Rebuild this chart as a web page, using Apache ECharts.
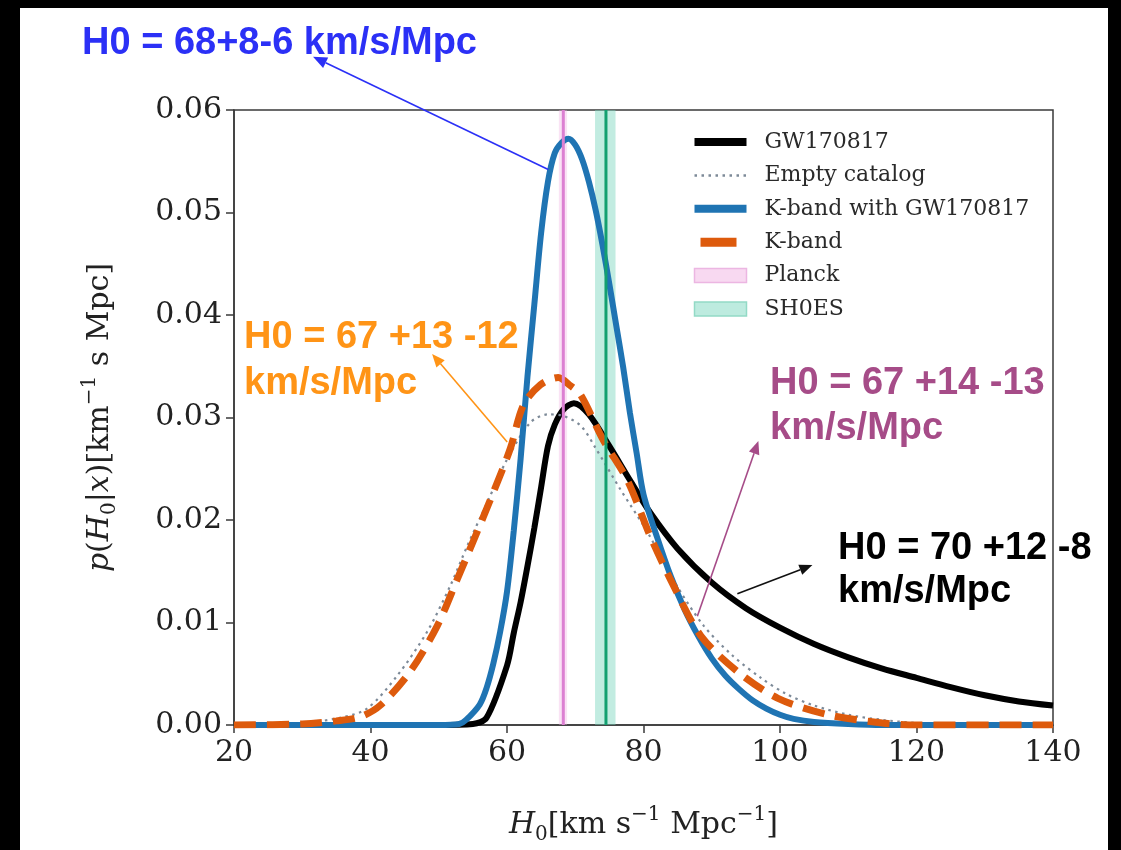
<!DOCTYPE html>
<html><head><meta charset="utf-8">
<script src="https://cdn.jsdelivr.net/npm/echarts@6/dist/echarts.min.js"></script>
<style>html,body{margin:0;padding:0;background:#000}#c{width:1121px;height:850px}</style>
</head><body><div id="c"></div>
<script>
// ---- data ----
const xTicks = [20, 40, 60, 80, 100, 120, 140];
const yTicks = [0.00, 0.01, 0.02, 0.03, 0.04, 0.05, 0.06];

const gwX = [20, 40, 50, 55, 57, 60, 61, 62, 63, 64, 65, 66, 67, 68.3, 69.8, 72, 75, 78, 81, 85, 90, 95, 100, 105, 110, 115, 120, 125, 130, 135, 140];
const gwY = [0, 0, 0, 0.0001, 0.0007, 0.0058, 0.009, 0.012, 0.0155, 0.0192, 0.0232, 0.0272, 0.0293, 0.0308, 0.0314, 0.0303, 0.0272, 0.0239, 0.0207, 0.0172, 0.0139, 0.0114, 0.0095, 0.0079, 0.0066, 0.0055, 0.0046, 0.0037, 0.0029, 0.0023, 0.0019];

const emptyX = [20, 30, 35.5, 39.5, 43.9, 48.3, 51.7, 54.2, 57.1, 60, 63.4, 66, 68, 70.8, 73, 76.6, 80.6, 84.5, 88.8, 93, 97.2, 101, 105, 110, 115, 120, 130, 140];
const emptyY = [0, 0.0002, 0.0007, 0.0016, 0.0048, 0.0091, 0.0136, 0.0175, 0.0217, 0.0259, 0.0295, 0.0303, 0.0302, 0.0292, 0.027, 0.023, 0.0188, 0.014, 0.0097, 0.0068, 0.0046, 0.003, 0.0019, 0.001, 0.0005, 0.0002, 0, 0];

const kgwX = [20, 50, 53, 54, 56, 57, 58, 59, 60, 61, 62, 63, 64, 65, 66, 67, 68, 69, 70, 71, 72, 73, 74, 75, 76, 77, 78, 79, 80, 82, 84, 86, 88, 90, 92, 94, 96, 98, 100, 102, 105, 110, 115, 140];
const kgwY = [0, 0, 0.0001, 0.0005, 0.002, 0.0036, 0.006, 0.0091, 0.013, 0.019, 0.026, 0.034, 0.041, 0.048, 0.053, 0.0558, 0.0568, 0.0572, 0.0566, 0.0552, 0.053, 0.0502, 0.0468, 0.043, 0.039, 0.035, 0.0305, 0.0265, 0.0225, 0.0183, 0.0145, 0.0113, 0.0087, 0.0065, 0.0048, 0.0035, 0.0024, 0.0016, 0.001, 0.0006, 0.0003, 0.0001, 0, 0];

const kX = [20, 30, 35, 38.5, 41.4, 45.8, 49.8, 52.7, 55.1, 58, 60.5, 62.4, 64.9, 67.5, 69.3, 70.8, 74.1, 77.7, 81, 84.4, 88.4, 93.8, 99.7, 107, 115, 120, 140];
const kY = [0, 0.0001, 0.0004, 0.0008, 0.0019, 0.0052, 0.0097, 0.0142, 0.018, 0.0227, 0.027, 0.0312, 0.0332, 0.0339, 0.0331, 0.0322, 0.0278, 0.0238, 0.0184, 0.0136, 0.0087, 0.0052, 0.0026, 0.001, 0.0002, 0, 0];

const planckLine = 68.25, planckBand = [67.6, 68.8];
const shoesLine = 74.5, shoesBand = [72.9, 75.9];

const legendNames = ['GW170817', 'Empty catalog', 'K-band with GW170817', 'K-band', 'Planck', 'SH0ES'];

// annotations: text and arrow (from point on curve -> to text), in data units
const annBlue = {text: 'H0 = 68+8-6 km/s/Mpc', from: [66.04, 0.0542], to: [31.58, 0.0652]};
const annOrange = {text: 'H0 = 67 +13 -12\nkm/s/Mpc', from: [60.03, 0.0276], to: [49.03, 0.0362]};
const annPurple = {text: 'H0 = 67 +14 -13\nkm/s/Mpc', from: [87.89, 0.0106], to: [96.83, 0.0277]};
const annBlack = {text: 'H0 = 70 +12 -8\nkm/s/Mpc', from: [93.75, 0.0128], to: [104.75, 0.0156]};

const zip = (xs, ys) => xs.map((x, i) => [x, ys[i]]);
const serif = 'DejaVu Serif';
const axisC = '#3a3a3a', txtC = '#222';
const cBlack = '#000', cGray = '#7d8a98', cBlue = '#1f74b3', cOrange = '#dd5a0c';

function richName(size) {
  return {fontFamily: serif, fontSize: size, color: txtC, lineHeight: 40,
    rich: {i: {fontFamily: serif, fontStyle: 'italic', fontSize: size, color: txtC, lineHeight: 40},
           sub: {fontFamily: serif, fontSize: Math.round(size * 0.66), color: txtC, verticalAlign: 'bottom', lineHeight: 38},
           sup: {fontFamily: serif, fontSize: Math.round(size * 0.66), color: txtC, verticalAlign: 'top', lineHeight: 28}}};
}

const chart = echarts.init(document.getElementById('c'));
const hideSym = {opacity: 0};
const option = {
  animation: false,
  backgroundColor: '#000',
  grid: {left: 234, right: 68, top: 110, bottom: 123, show: true, borderColor: axisC, borderWidth: 1.5},
  xAxis: {
    type: 'value', min: 20, max: 140, interval: 20,
    axisLine: {show: true, lineStyle: {color: axisC, width: 1.5}},
    axisTick: {show: true, length: 8, lineStyle: {color: axisC, width: 1.5}},
    splitLine: {show: false},
    axisLabel: {margin: 13, fontFamily: serif, fontSize: 30, color: txtC},
    name: '{i|H}{sub|0}[km s{sup|−1} Mpc{sup|−1}]',
    nameLocation: 'middle', nameGap: 80,
    nameTextStyle: richName(30)
  },
  yAxis: {
    type: 'value', min: 0, max: 0.06, interval: 0.01,
    axisLine: {show: true, lineStyle: {color: axisC, width: 1.5}},
    axisTick: {show: true, length: 8, lineStyle: {color: axisC, width: 1.5}},
    splitLine: {show: false},
    axisLabel: {margin: 12, fontFamily: serif, fontSize: 30, color: txtC, formatter: v => v.toFixed(2)},
    name: '{i|p}({i|H}{sub|0}|{i|x})[km{sup|−1} s Mpc]',
    nameLocation: 'middle', nameGap: 114, nameRotate: 90,
    nameTextStyle: richName(30)
  },
  legend: {
    orient: 'vertical', left: 685, top: 126, itemWidth: 52, itemHeight: 14, itemGap: 11.4,
    selectedMode: false,
    textStyle: {fontFamily: serif, fontSize: 22, color: '#2a2a2a', lineHeight: 22, padding: [0, 0, 0, 13]},
    data: [
      {name: legendNames[0], itemStyle: hideSym, lineStyle: {color: cBlack, width: 8, type: 'solid'}},
      {name: legendNames[1], itemStyle: hideSym, lineStyle: {color: cGray, width: 2.5, type: [2.5, 4.5]}},
      {name: legendNames[2], itemStyle: hideSym, lineStyle: {color: cBlue, width: 8, type: 'solid'}},
      {name: legendNames[3], itemStyle: hideSym, lineStyle: {color: cOrange, width: 9, type: [36, 60], dashOffset: -6, cap: 'butt'}},
      {name: legendNames[4], icon: 'rect', itemStyle: {color: '#f8d9f1', borderColor: '#ecb6e2', borderWidth: 1.5}},
      {name: legendNames[5], icon: 'rect', itemStyle: {color: '#bdebdf', borderColor: '#93dac6', borderWidth: 1.5}}
    ]
  },
  series: [
    {name: legendNames[0], type: 'line', data: zip(gwX, gwY), symbol: 'none', smooth: 0.3,
     lineStyle: {color: cBlack, width: 6}, itemStyle: {color: cBlack}, z: 2},
    {name: legendNames[1], type: 'line', data: zip(emptyX, emptyY), symbol: 'none', smooth: 0.3,
     lineStyle: {color: cGray, width: 2.2, type: [2.5, 4.5]}, itemStyle: {color: cGray}, z: 3},
    {name: legendNames[2], type: 'line', data: zip(kgwX, kgwY), symbol: 'none', smooth: 0.3,
     lineStyle: {color: cBlue, width: 6}, itemStyle: {color: cBlue}, z: 4},
    {name: legendNames[3], type: 'line', data: zip(kX, kY), symbol: 'none', smooth: 0.3,
     lineStyle: {color: cOrange, width: 7, type: [22, 11], cap: 'butt'}, itemStyle: {color: cOrange}, z: 5},
    {name: legendNames[4], type: 'line', data: [[planckLine, 0], [planckLine, 0.06]], symbol: 'none',
     lineStyle: {color: '#dc80d2', width: 3}, itemStyle: {color: '#f8d9f1'}, z: 6,
     markArea: {silent: true, itemStyle: {color: 'rgba(240,175,225,0.35)'}, data: [[{xAxis: planckBand[0]}, {xAxis: planckBand[1]}]]}},
    {name: legendNames[5], type: 'line', data: [[shoesLine, 0], [shoesLine, 0.06]], symbol: 'none',
     lineStyle: {color: '#13a070', width: 3}, itemStyle: {color: '#bdebdf'}, z: 6,
     markArea: {silent: true, itemStyle: {color: 'rgba(120,212,188,0.45)'}, data: [[{xAxis: shoesBand[0]}, {xAxis: shoesBand[1]}]]}}
  ]
};
chart.setOption(option);

function arrow(ann, color, w, head) {
  const p0 = chart.convertToPixel({gridIndex: 0}, ann.from);
  const p1 = chart.convertToPixel({gridIndex: 0}, ann.to);
  const dx = p1[0] - p0[0], dy = p1[1] - p0[1];
  const L = Math.hypot(dx, dy), ux = dx / L, uy = dy / L;
  const b = [p1[0] - ux * head, p1[1] - uy * head];
  const hw = head * 0.42;
  return [
    {type: 'line', z: 20, shape: {x1: p0[0], y1: p0[1], x2: b[0], y2: b[1]}, style: {stroke: color, lineWidth: w}},
    {type: 'polygon', z: 20, shape: {points: [p1, [b[0] - uy * hw, b[1] + ux * hw], [b[0] + uy * hw, b[1] - ux * hw]]}, style: {fill: color}}
  ];
}
function label(ann, x, y, color, lh) {
  return {type: 'text', z: 21, x: x, y: y,
    style: {text: ann.text, fill: color, font: 'bold 38px "Liberation Sans", Arial, sans-serif', lineHeight: lh, verticalAlign: 'top', align: 'left'}};
}

const blueC = '#2b30f6', orangeC = '#ff9416', purpleC = '#a64c88', blackC = '#000';
chart.setOption({
  graphic: [
    {type: 'rect', z: -100, shape: {x: 20, y: 8, width: 1088, height: 842}, style: {fill: '#fff'}, silent: true},
    label(annBlue, 82, 21, blueC, 46),
    label(annOrange, 244, 315, orangeC, 46),
    label(annPurple, 770, 361, purpleC, 45),
    label(annBlack, 838, 527, blackC, 43),
    ...arrow(annBlue, blueC, 1.6, 14),
    ...arrow(annOrange, orangeC, 1.6, 13),
    ...arrow(annPurple, purpleC, 1.6, 13),
    ...arrow(annBlack, '#111', 1.6, 13)
  ]
});
</script></body></html>
